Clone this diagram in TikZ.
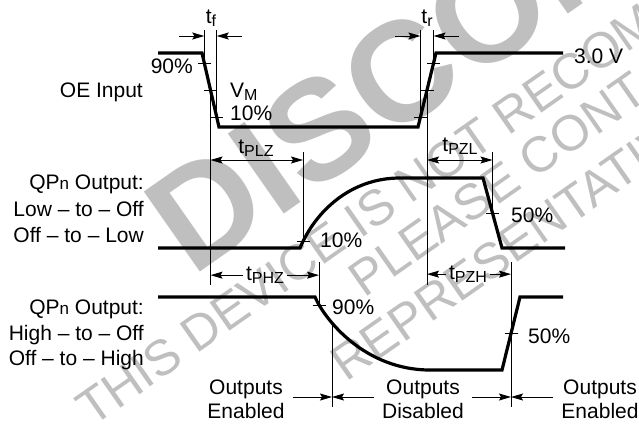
\documentclass[tikz,border=0pt]{standalone}
\usepackage{fontspec}
\setmainfont{Liberation Sans}
\usetikzlibrary{positioning,calc,arrows.meta}

\newcommand{\lsub}[1]{\raisebox{-0.35ex}{\fontsize{16}{16}\selectfont #1}}
\newcommand{\smn}{{\fontsize{17}{17}\selectfont n}}

\tikzset{
  wave/.style={line width=3.2pt},
  guide/.style={line width=0.9pt},
  dimarrow/.style={line width=0.9pt,-{Stealth[length=12pt,width=7pt,inset=2pt]}},
  dimboth/.style={line width=0.9pt,{Stealth[length=12pt,width=7pt,inset=2pt]}-{Stealth[length=12pt,width=7pt,inset=2pt]}},
  lbl/.style={font=\fontsize{21}{26}\selectfont,inner sep=0pt},
  wmark/.style={text=gray!50,rotate=35,inner sep=0pt,anchor=base west,font=\fontsize{50}{50}\selectfont}
}

\begin{document}
\begin{tikzpicture}[x=1pt,y=-1pt]
    \useasboundingbox (0,0) rectangle (639,426);
    \begin{scope}
        \clip (0,0) rectangle (639,426);
        \node[wmark,font=\fontsize{142}{142}\selectfont\bfseries] (wmdisc) at (192,278) {DISCONTINUED};
        \node[wmark] (wmline1) at (92,428) {THIS DEVICE IS NOT RECOMMENDED FOR NEW DESIGN.};
        \node[wmark] (wmline2) at (364,299) {PLEASE CONTACT YOUR ON SEMICONDUCTOR};
        \node[wmark] (wmline3) at (346,383) {REPRESENTATIVE FOR INFORMATION};
    \end{scope}

    \coordinate (ytop) at (0,30);
    \coordinate (yarr) at (0,36);
    \coordinate (yplz) at (0,152);
    \coordinate (yplzarr) at (0,160);
    \coordinate (yhz) at (0,262);
    \coordinate (yend) at (0,285);
    \coordinate (yout) at (0,397);
    \coordinate (ybot) at (0,407);

    \coordinate (oeA) at (158,53);
    \coordinate (oeB) at (202,53);
    \coordinate (oeC) at (219,127);
    \coordinate (oeD) at (418,127);
    \coordinate (oeE) at (436,53);
    \coordinate (oeF) at (563,53);
    \coordinate (f90) at ($(oeB)!0.135!(oeC)$);
    \coordinate (f50) at ($(oeB)!0.5!(oeC)$);
    \coordinate (f10) at ($(oeB)!0.865!(oeC)$);
    \coordinate (r10) at ($(oeD)!0.135!(oeE)$);
    \coordinate (r50) at ($(oeD)!0.5!(oeE)$);
    \coordinate (r90) at ($(oeD)!0.865!(oeE)$);
    \draw[wave] (oeA) -- (oeB) -- (oeC) -- (oeD) -- (oeE) -- (oeF);

    \coordinate (lzA) at (158,248);
    \coordinate (lzB) at (300,248);
    \coordinate (lzC) at (400,178);
    \coordinate (lzD) at (483,178);
    \coordinate (lzE) at (502,248);
    \coordinate (lzF) at (565,248);
    \coordinate (lz10) at (303,241);
    \coordinate (lz50) at ($(lzD)!0.5!(lzE)$);
    \draw[wave] (lzA) -- (lzB) .. controls (315,212) and (350,178) .. (lzC) -- (lzD) -- (lzE) -- (lzF);

    \coordinate (hzA) at (158,297);
    \coordinate (hzB) at (315,297);
    \coordinate (hzC) at (430,370);
    \coordinate (hzD) at (502,370);
    \coordinate (hzE) at (520,297);
    \coordinate (hzF) at (563,297);
    \coordinate (hz90) at (319,305);
    \coordinate (hz50) at ($(hzD)!0.5!(hzE)$);
    \coordinate (e1) at (332,322);
    \draw[wave] (hzA) -- (hzB) .. controls (325,320) and (365,370) .. (hzC) -- (hzD) -- (hzE) -- (hzF);

    \foreach \p in {f90,f50,f10,r10,r50,r90,lz10,lz50,hz90,hz50}
        \draw[guide] ($(\p)+(-6.5,0)$) -- ($(\p)+(6.5,0)$);

    \draw[guide] (f90 |- ytop) -- (f90);
    \draw[guide] (f10 |- ytop) -- (f10);
    \draw[guide] (r10 |- ytop) -- (r10);
    \draw[guide] (r90 |- ytop) -- (r90);
    \draw[guide] (f50) -- (f50 |- yend);
    \draw[guide] (r50) -- (r50 |- yend);
    \draw[guide] (lz10 |- yplz) -- (lz10);
    \draw[guide] (lz50 |- yplz) -- (lz50);
    \draw[guide] (hz90 |- yhz) -- (hz90);
    \draw[guide] (hz50 |- yhz) -- (hz50 |- ybot);
    \draw[guide] (e1) -- (e1 |- ybot);

    \draw[dimarrow] ($(f90 |- yarr)+(-25,0)$) -- (f90 |- yarr);
    \draw[dimarrow] ($(f10 |- yarr)+(25,0)$) -- (f10 |- yarr);
    \draw[dimarrow] ($(r10 |- yarr)+(-25,0)$) -- (r10 |- yarr);
    \draw[dimarrow] ($(r90 |- yarr)+(25,0)$) -- (r90 |- yarr);
    \draw[dimboth] (f50 |- yplzarr) -- (lz10 |- yplzarr);
    \draw[dimboth] (r50 |- yplzarr) -- (lz50 |- yplzarr);

    \node[lbl,anchor=base] (tf) at (211,23) {t\lsub{f}};
    \node[lbl,anchor=base] (tr) at (427,23) {t\lsub{r}};
    \node[lbl,anchor=base] (tplz) at (256,153) {t\lsub{PLZ}};
    \node[lbl,anchor=base] (tpzl) at (460,151) {t\lsub{PZL}};
    \node[lbl,anchor=base,inner xsep=3pt] (tphz) at (265,280) {t\lsub{PHZ}};
    \node[lbl,anchor=base,inner xsep=3pt] (tpzh) at (468,279) {t\lsub{PZH}};
    \draw[dimarrow] (tphz.west) -- (tphz.west -| f50);
    \draw[dimarrow] (tphz.east) -- (tphz.east -| hz90);
    \draw[dimarrow] (tpzh.west) -- (tpzh.west -| r50);
    \draw[dimarrow] (tpzh.east) -- (tpzh.east -| hz50);

    \node[lbl,anchor=base east] (p90a) at (193,73) {90\%};
    \node[lbl,anchor=base west] (vm) at (230,97) {V\lsub{M}};
    \node[lbl,anchor=base west] (p10a) at (230,120) {10\%};
    \node[lbl,anchor=base west] (volt) at (574,63) {3.0 V};
    \node[lbl,anchor=base west] (p10b) at (320,247) {10\%};
    \node[lbl,anchor=base west] (p50b) at (511,222) {50\%};
    \node[lbl,anchor=base west] (p90c) at (332,314) {90\%};
    \node[lbl,anchor=base west] (p50c) at (528,343) {50\%};

    \node[lbl,anchor=base east] (oein) at (143,97) {OE Input};
    \node[lbl,anchor=north east,align=right,font=\fontsize{21}{26.5}\selectfont] (qpa) at (144,175) {QP\smn{} Output:\\Low -- to -- Off\\Off -- to -- Low};
    \node[lbl,anchor=north east,align=right,font=\fontsize{21}{25.5}\selectfont] (qpb) at (144,300) {QP\smn{} Output:\\High -- to -- Off\\Off -- to -- High};

    \node[lbl,anchor=north,align=center,font=\fontsize{21}{24}\selectfont] (ena) at (246,380) {Outputs\\Enabled};
    \node[lbl,anchor=north,align=center,font=\fontsize{21}{24}\selectfont] (dis) at (423,380) {Outputs\\Disabled};
    \node[lbl,anchor=north,align=center,font=\fontsize{21}{24}\selectfont] (enb) at (600,380) {Outputs\\Enabled};
    \draw[dimarrow] ($(ena.east |- yout)+(8,0)$) -- (e1 |- yout);
    \draw[dimarrow] ($(dis.west |- yout)+(-8,0)$) -- (e1 |- yout);
    \draw[dimarrow] ($(dis.east |- yout)+(8,0)$) -- (hz50 |- yout);
    \draw[dimarrow] ($(enb.west |- yout)+(-8,0)$) -- (hz50 |- yout);
\end{tikzpicture}
\end{document}
